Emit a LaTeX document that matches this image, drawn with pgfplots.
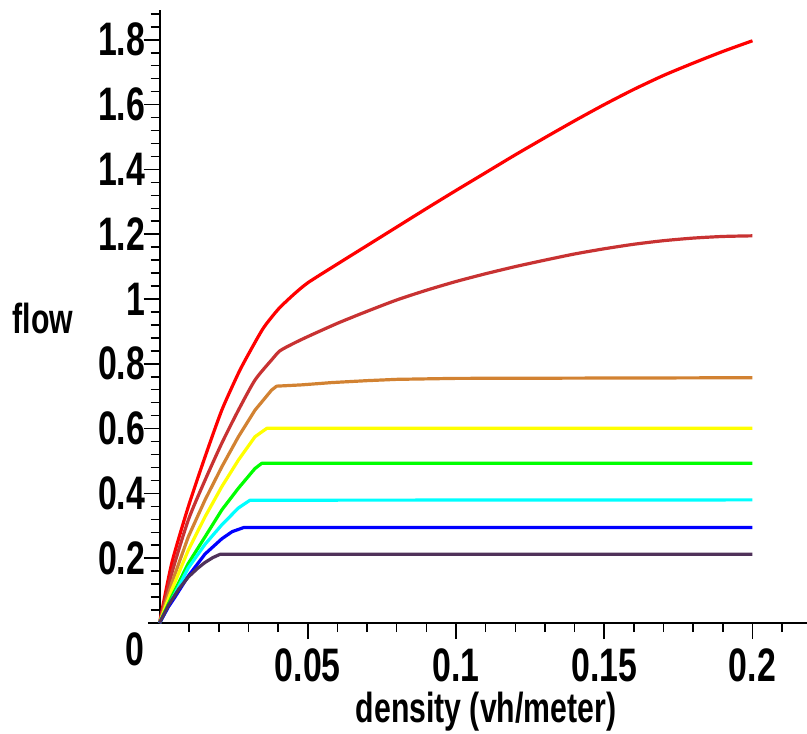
\documentclass[border=0pt]{standalone}
\usepackage{pgfplots}
\pgfplotsset{compat=1.18}
\usepackage{fontspec}
\setmainfont{Liberation Sans}[FakeStretch=0.72]

\definecolor{mred}{RGB}{255,0,0}
\definecolor{mbrown}{RGB}{200,50,50}
\definecolor{morange}{RGB}{210,130,50}
\definecolor{myellow}{RGB}{255,255,0}
\definecolor{mgreen}{RGB}{0,255,0}
\definecolor{mcyan}{RGB}{0,255,255}
\definecolor{mblue}{RGB}{0,0,255}
\definecolor{mpurple}{RGB}{80,50,90}

\begin{document}
\begin{tikzpicture}
\useasboundingbox (-74pt,-55pt) rectangle (329.5pt,311.5pt);
\begin{axis}[
    at={(0,0)}, anchor=south west,
    scale only axis,
    width=329.5pt, height=306.5pt,
    xmin=-0.0039, xmax=0.2184,
    ymin=0, ymax=1.892,
    axis lines=middle,
    axis line style={-, line width=1pt},
    clip=false,
    xtick={0.05,0.1,0.15,0.2},
    xticklabels={0.05,0.1,0.15,0.2},
    minor xtick={0.01,0.02,0.03,0.04,0.06,0.07,0.08,0.09,0.11,0.12,0.13,0.14,0.16,0.17,0.18,0.19,0.21},
    ytick={0.2,0.4,0.6,0.8,1,1.2,1.4,1.6,1.8},
    yticklabels={0.2,0.4,0.6,0.8,1,1.2,1.4,1.6,1.8},
    minor ytick={0.04,0.08,0.12,0.16,0.24,0.28,0.32,0.36,0.44,0.48,0.52,0.56,
                 0.64,0.68,0.72,0.76,0.84,0.88,0.92,0.96,1.04,1.08,1.12,1.16,
                 1.24,1.28,1.32,1.36,1.44,1.48,1.52,1.56,1.64,1.68,1.72,1.76,1.84,1.88},
    tick align=outside,
    major tick length=8pt,
    minor tick length=4.5pt,
    tick style={black, line width=0.75pt},
    xticklabel style={anchor=north, inner sep=0pt, yshift=-4.5pt,
        font=\fontsize{23.5}{24}\selectfont\bfseries},
    yticklabel style={anchor=east, inner sep=0pt, xshift=1pt,
        font=\fontsize{23.5}{24}\selectfont\bfseries},
    every axis plot/.append style={line width=1.6pt, line join=round},
]
% --- flow curves ---
\addplot[mred, smooth, tension=0.4] coordinates {(0,0) (0.0041,0.184) (0.0097,0.359) (0.01535,0.513) (0.021,0.657)
    (0.0266,0.771) (0.03,0.83) (0.035,0.91) (0.04,0.968) (0.045,1.012) (0.05,1.05) (0.06,1.108)
    (0.07,1.165) (0.08,1.222) (0.09,1.279) (0.1,1.335) (0.11,1.39) (0.12,1.445) (0.13,1.498)
    (0.14,1.55) (0.15,1.6) (0.16,1.647) (0.17,1.69) (0.18,1.728) (0.19,1.764) (0.2,1.797)};

\addplot[mbrown, smooth, tension=0.4] coordinates {(0,0) (0.0041,0.153) (0.0097,0.318) (0.01535,0.441) (0.021,0.555)
    (0.0266,0.657) (0.0322,0.75) (0.0378,0.812) (0.0406,0.84) (0.045,0.862) (0.05,0.884)
    (0.06,0.925) (0.07,0.962) (0.08,0.997) (0.09,1.027) (0.1,1.054) (0.11,1.078)
    (0.12,1.1) (0.13,1.12) (0.14,1.139) (0.15,1.155) (0.16,1.169) (0.17,1.18) (0.18,1.188)
    (0.19,1.193) (0.2,1.195)};

\addplot[morange] coordinates {(0,0) (0.0041,0.123) (0.0097,0.266) (0.01535,0.38) (0.021,0.482)
    (0.0266,0.575) (0.0322,0.657) (0.0378,0.719) (0.0395,0.731) (0.048,0.735) (0.058,0.742)
    (0.07,0.748) (0.08,0.752) (0.1,0.755) (0.2,0.757)};

\addplot[myellow] coordinates {(0,0) (0.0041,0.102) (0.0097,0.225) (0.01535,0.328) (0.021,0.421)
    (0.0266,0.503) (0.0322,0.575) (0.0362,0.601) (0.2,0.601)};

\addplot[mgreen] coordinates {(0,0) (0.0041,0.081) (0.0097,0.184) (0.01535,0.266) (0.021,0.349)
    (0.0266,0.416) (0.0322,0.477) (0.0345,0.493) (0.2,0.493)};

\addplot[mcyan] coordinates {(0,0) (0.0041,0.071) (0.0097,0.17) (0.01535,0.243) (0.021,0.303)
    (0.0266,0.355) (0.0305,0.379) (0.2,0.38)};

\addplot[mblue] coordinates {(0,0) (0.003,0.05) (0.0052,0.08) (0.0097,0.145) (0.01535,0.213)
    (0.021,0.26) (0.0245,0.282) (0.0285,0.295) (0.2,0.295)};

\addplot[mpurple] coordinates {(0,0) (0.003,0.055) (0.0065,0.105) (0.0097,0.142) (0.013,0.17)
    (0.01535,0.187) (0.018,0.202) (0.0204,0.212) (0.2,0.212)};

% --- labels ---
\node[font=\fontsize{23.5}{24}\selectfont\bfseries] at (axis cs:-0.00826,-0.080) {0};
\node[font=\fontsize{21}{22}\selectfont\bfseries] at (axis cs:-0.0393,0.941) {flow};
\node[font=\fontsize{21}{22}\selectfont\bfseries] at (axis cs:0.1101,-0.275) {density (vh/meter)};
\end{axis}
\end{tikzpicture}
\end{document}
